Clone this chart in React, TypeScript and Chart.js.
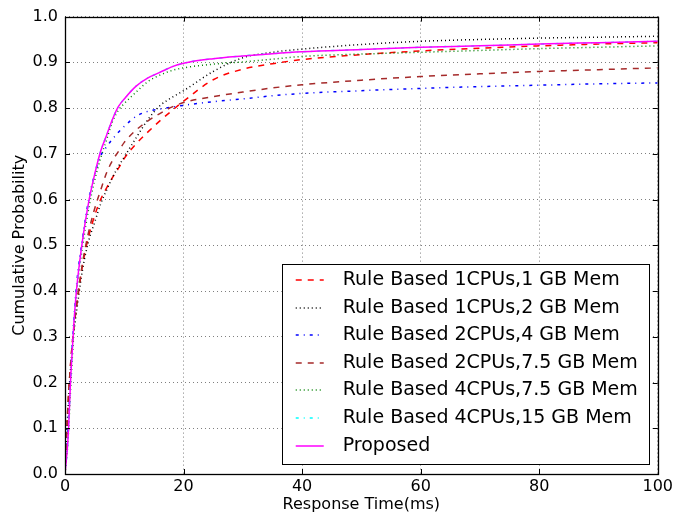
import React, { useEffect, useRef } from 'react';
import { Chart, registerables } from 'chart.js';

Chart.register(...registerables);

// Response time samples (ms) shared by every CDF curve
const responseTimes = [0, 0.5, 1, 1.5, 2, 3, 4, 5, 6, 7, 8, 9, 10, 12, 14, 16, 18, 20, 25, 30, 35, 40, 50, 60, 70, 80, 90, 100];

// Cumulative probability of each configuration at the sample times above
const rule1Cpu1Gb = [0, 0.15, 0.25, 0.32, 0.37, 0.46, 0.52, 0.565, 0.6, 0.625, 0.648, 0.668, 0.69, 0.722, 0.748, 0.772, 0.794, 0.815, 0.862, 0.885, 0.897, 0.906, 0.917, 0.925, 0.931, 0.936, 0.94, 0.943];
const rule1Cpu2Gb = [0, 0.14, 0.24, 0.31, 0.36, 0.45, 0.51, 0.55, 0.59, 0.62, 0.648, 0.672, 0.693, 0.735, 0.775, 0.805, 0.823, 0.838, 0.88, 0.91, 0.922, 0.929, 0.939, 0.946, 0.95, 0.953, 0.955, 0.957];
const rule2Cpu4Gb = [0, 0.1, 0.23, 0.34, 0.42, 0.52, 0.6, 0.655, 0.695, 0.715, 0.732, 0.747, 0.76, 0.782, 0.793, 0.798, 0.802, 0.806, 0.814, 0.82, 0.827, 0.832, 0.838, 0.843, 0.847, 0.85, 0.853, 0.855];
const rule2Cpu75Gb = [0, 0.15, 0.25, 0.32, 0.375, 0.465, 0.53, 0.58, 0.62, 0.658, 0.685, 0.705, 0.725, 0.752, 0.772, 0.788, 0.802, 0.812, 0.825, 0.835, 0.844, 0.851, 0.861, 0.869, 0.875, 0.88, 0.884, 0.888];
const rule4Cpu75Gb = [0, 0.07, 0.2, 0.31, 0.4, 0.5, 0.58, 0.642, 0.69, 0.73, 0.77, 0.795, 0.81, 0.835, 0.858, 0.872, 0.882, 0.888, 0.896, 0.901, 0.907, 0.913, 0.918, 0.922, 0.926, 0.93, 0.933, 0.936];
const rule4Cpu15Gb = [0, 0.075, 0.22, 0.33, 0.41, 0.515, 0.595, 0.655, 0.705, 0.74, 0.775, 0.803, 0.82, 0.848, 0.866, 0.878, 0.89, 0.898, 0.908, 0.914, 0.919, 0.923, 0.928, 0.933, 0.936, 0.94, 0.943, 0.946];
const proposed = [0, 0.075, 0.22, 0.33, 0.41, 0.515, 0.595, 0.655, 0.705, 0.74, 0.775, 0.803, 0.82, 0.848, 0.866, 0.878, 0.89, 0.898, 0.908, 0.914, 0.919, 0.923, 0.928, 0.933, 0.936, 0.94, 0.943, 0.946];

const seriesLabels = [
  'Rule Based 1CPUs,1 GB Mem',
  'Rule Based 1CPUs,2 GB Mem',
  'Rule Based 2CPUs,4 GB Mem',
  'Rule Based 2CPUs,7.5 GB Mem',
  'Rule Based 4CPUs,7.5 GB Mem',
  'Rule Based 4CPUs,15 GB Mem',
  'Proposed',
];
const seriesValues = [rule1Cpu1Gb, rule1Cpu2Gb, rule2Cpu4Gb, rule2Cpu75Gb, rule4Cpu75Gb, rule4Cpu15Gb, proposed];

const seriesColors = ['#ff0000', '#000000', '#0000ff', '#a52a2a', '#008000', '#00ffff', '#ff00ff'];
const seriesDashes: number[][] = [[6, 6], [1, 3], [3, 5, 1, 5], [6, 6], [1, 3], [3, 5, 1, 5], []];

const FONT = "'DejaVu Sans', sans-serif";
const LINE_WIDTH = 1.5;

// Closed frame plus inward-pointing tick marks on all four sides
const frameAndTicks = {
  id: 'frameAndTicks',
  afterDatasetsDraw(chart: any) {
    const { ctx, chartArea: a, scales } = chart;
    const len = 5;
    ctx.save();
    ctx.setLineDash([]);
    ctx.strokeStyle = '#000';
    ctx.lineWidth = 1;
    ctx.beginPath();
    for (const t of scales.x.ticks) {
      const px = Math.round(scales.x.getPixelForValue(t.value)) + 0.5;
      ctx.moveTo(px, a.bottom);
      ctx.lineTo(px, a.bottom - len);
      ctx.moveTo(px, a.top);
      ctx.lineTo(px, a.top + len);
    }
    for (const t of scales.y.ticks) {
      const py = Math.round(scales.y.getPixelForValue(t.value)) + 0.5;
      ctx.moveTo(a.left, py);
      ctx.lineTo(a.left + len, py);
      ctx.moveTo(a.right, py);
      ctx.lineTo(a.right - len, py);
    }
    ctx.stroke();
    ctx.lineWidth = 1.3;
    ctx.strokeRect(Math.round(a.left) + 0.5, Math.round(a.top) + 0.5, Math.round(a.right - a.left), Math.round(a.bottom - a.top));
    ctx.restore();
  },
};

// Boxed legend in the lower-right corner of the plot area
const insideLegend = {
  id: 'insideLegend',
  afterDraw(chart: any) {
    const { ctx, chartArea: a } = chart;
    const boxW = 367;
    const boxH = 200;
    const right = a.right - 9;
    const bottom = a.bottom - 10;
    const left = right - boxW;
    const top = bottom - boxH;
    ctx.save();
    ctx.fillStyle = '#fff';
    ctx.fillRect(left, top, boxW, boxH);
    ctx.strokeStyle = '#000';
    ctx.lineWidth = 1;
    ctx.setLineDash([]);
    ctx.strokeRect(Math.round(left) + 0.5, Math.round(top) + 0.5, boxW, boxH);
    ctx.font = `19px ${FONT}`;
    ctx.textBaseline = 'middle';
    const rowStep = 27.6;
    const firstRow = top + 16;
    seriesLabels.forEach((label, i) => {
      const y = Math.round(firstRow + i * rowStep);
      ctx.beginPath();
      ctx.strokeStyle = seriesColors[i];
      ctx.lineWidth = LINE_WIDTH;
      ctx.setLineDash(seriesDashes[i]);
      ctx.moveTo(left + 14, y);
      ctx.lineTo(left + 42, y);
      ctx.stroke();
      ctx.setLineDash([]);
      ctx.fillStyle = '#000';
      ctx.fillText(label, left + 61, y);
    });
    ctx.restore();
  },
};

export default function App() {
  const canvasRef = useRef<HTMLCanvasElement | null>(null);

  useEffect(() => {
    const canvas = canvasRef.current;
    if (!canvas) return;
    const datasets = seriesLabels.map((label, i) => ({
      label,
      data: responseTimes.map((t, j) => ({ x: t, y: seriesValues[i][j] })),
      borderColor: seriesColors[i],
      backgroundColor: seriesColors[i],
      borderDash: seriesDashes[i],
      borderWidth: LINE_WIDTH,
      pointRadius: 0,
      fill: false,
      cubicInterpolationMode: 'monotone' as const,
      order: seriesLabels.length - 1 - i,
    }));

    const chart = new Chart(canvas, {
      type: 'line',
      data: { datasets },
      options: {
        animation: false,
        responsive: false,
        devicePixelRatio: 1,
        layout: { padding: { top: 12, right: 16, left: 0, bottom: 0 } },
        plugins: { legend: { display: false }, tooltip: { enabled: false } },
        scales: {
          x: {
            type: 'linear',
            min: 0,
            max: 100,
            ticks: { stepSize: 20, color: '#000', font: { family: FONT, size: 16 }, padding: 3, maxRotation: 0 },
            grid: { color: 'rgba(0,0,0,0.5)', lineWidth: 1, drawTicks: false },
            border: { display: false, dash: [1, 3] },
            title: { display: true, text: 'Response Time(ms)', color: '#000', font: { family: FONT, size: 16 }, padding: { top: 0, bottom: 5 } },
            afterFit: (s: any) => { s.height = 45; },
          },
          y: {
            type: 'linear',
            min: 0,
            max: 1,
            ticks: { stepSize: 0.1, color: '#000', font: { family: FONT, size: 16 }, padding: 7, callback: (v: any) => Number(v).toFixed(1) },
            grid: { color: 'rgba(0,0,0,0.5)', lineWidth: 1, drawTicks: false },
            border: { display: false, dash: [1, 3] },
            title: { display: true, text: 'Cumulative Probability', color: '#000', font: { family: FONT, size: 16 }, padding: { top: 10, bottom: 0 } },
            afterFit: (s: any) => { s.width = 65; },
          },
        },
      },
      plugins: [frameAndTicks, insideLegend],
    });
    return () => chart.destroy();
  }, []);

  return (
    <div style={{ position: 'fixed', left: 0, top: 0, width: 676, height: 519, background: '#fff' }}>
      <canvas ref={canvasRef} width={676} height={519} style={{ display: 'block' }} />
    </div>
  );
}
